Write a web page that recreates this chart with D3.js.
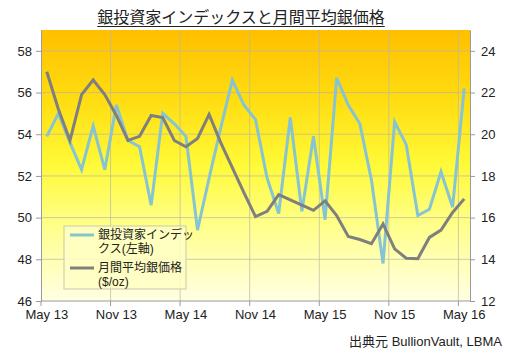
<!DOCTYPE html>
<html>
<head>
<meta charset="utf-8">
<script src="https://cdn.jsdelivr.net/npm/d3@7"></script>
<style>
	body { margin: 0; background: #fff; }
	svg { display: block; font-family: 'Liberation Sans', Arial, 'Noto Sans CJK JP', sans-serif; }
	.axis text { font-size: 13px; fill: #222; }
	.axis path, .axis line { stroke: #9a9a9a; }
	.grid line { stroke: #b8b8a8; stroke-opacity: 0.7; }
	.jp { font-family: 'Noto Sans CJK JP', sans-serif; }
</style>
</head>
<body>
<svg id="chart" width="522" height="360"></svg>
<script>
'use strict';

// May 13 .. May 16, one point per month
var months = ['May 13','Jun 13','Jul 13','Aug 13','Sep 13','Oct 13','Nov 13','Dec 13',
	'Jan 14','Feb 14','Mar 14','Apr 14','May 14','Jun 14','Jul 14','Aug 14','Sep 14','Oct 14',
	'Nov 14','Dec 14','Jan 15','Feb 15','Mar 15','Apr 15','May 15','Jun 15','Jul 15','Aug 15',
	'Sep 15','Oct 15','Nov 15','Dec 15','Jan 16','Feb 16','Mar 16','Apr 16','May 16'];

// silver investor index (left axis)
var investorIndex = [53.9, 55.0, 53.6, 52.3, 54.4, 52.3, 55.4, 53.7, 53.4, 50.6,
	55.0, 54.5, 53.9, 49.4, 51.9, 54.3, 56.6, 55.4, 54.7, 51.9,
	50.2, 54.8, 50.3, 53.9, 49.9, 56.7, 55.4, 54.5, 51.8, 47.8,
	54.6, 53.5, 50.1, 50.4, 52.2, 50.5, 56.2];

// monthly average silver price, $/oz (right axis)
var silverPrice = [23.0, 21.2, 19.7, 21.9, 22.6, 21.9, 20.9, 19.7, 19.9, 20.9,
	20.8, 19.7, 19.4, 19.8, 20.95, 19.6, 18.4, 17.2, 16.05, 16.3,
	17.1, 16.85, 16.6, 16.35, 16.8, 16.1, 15.1, 14.95, 14.75, 15.7,
	14.5, 14.05, 14.03, 15.05, 15.4, 16.25, 16.9];

var leftTicks = [46, 48, 50, 52, 54, 56, 58];
var rightTicks = [12, 14, 16, 18, 20, 22, 24];
var xTicks = ['May 13','Nov 13','May 14','Nov 14','May 15','Nov 15','May 16'];

var title = '銀投資家インデックスと月間平均銀価格';
var legendIndex = ['銀投資家インデッ', 'クス(左軸)'];
var legendPrice = ['月間平均銀価格', '($/oz)'];
var sourceText = '出典元 BullionVault, LBMA';

var margin = { left: 41, top: 30, right: 52, bottom: 59 };
var W = 522, H = 360;
var width = W - margin.left - margin.right;
var height = H - margin.top - margin.bottom;

var svg = d3.select('#chart');

var defs = svg.append('defs');
var grad = defs.append('linearGradient')
	.attr('id', 'bg')
	.attr('x1', 0).attr('y1', 0)
	.attr('x2', 0).attr('y2', 1)
	;
[['0%', '#ffbf00'], ['25%', '#ffdc10'], ['50%', '#fffa38'], ['72%', '#ffff8a'], ['100%', '#ffffe4']]
	.forEach(function(s) {
		grad.append('stop').attr('offset', s[0]).attr('stop-color', s[1]);
	});

var chart = svg.append('g')
	.attr('transform', 'translate(' + margin.left + ' ' + margin.top + ')')
	;

var x = d3.scaleBand()
	.domain(months)
	.range([0, width])
	;
var cx = function(m) { return x(m) + x.bandwidth() / 2; };

var yLeft = d3.scaleLinear()
	.domain([46, 59])
	.range([height, 0])
	;
var yRight = d3.scaleLinear()
	.domain([12, 25])
	.range([height, 0])
	;

chart.append('rect')
	.attr('width', width)
	.attr('height', height)
	.attr('fill', 'url(#bg)')
	;

// gridlines
var grid = chart.append('g').attr('class', 'grid');
grid.selectAll('.h')
	.data(leftTicks.slice(1))
	.enter().append('line')
		.attr('x1', 0).attr('x2', width)
		.attr('y1', function(d) { return yLeft(d); })
		.attr('y2', function(d) { return yLeft(d); })
	;
grid.selectAll('.v')
	.data(xTicks.slice(1))
	.enter().append('line')
		.attr('x1', function(d) { return x(d); })
		.attr('x2', function(d) { return x(d); })
		.attr('y1', 0).attr('y2', height)
	;

// axes
chart.append('g')
	.attr('class', 'y axis')
	.call(d3.axisLeft(yLeft).tickValues(leftTicks).tickSize(5).tickSizeOuter(0).tickPadding(4))
	;
chart.append('g')
	.attr('class', 'y axis')
	.attr('transform', 'translate(' + width + ',0)')
	.call(d3.axisRight(yRight).tickValues(rightTicks).tickSize(5).tickSizeOuter(0).tickPadding(6))
	;
var xAxis = chart.append('g')
	.attr('class', 'x axis')
	.attr('transform', 'translate(0,' + height + ')')
	.call(d3.axisBottom(x).tickValues(xTicks).tickSize(0).tickPadding(9))
	;
xAxis.select('.domain').remove();
chart.append('line')
	.attr('x1', 0).attr('x2', width)
	.attr('y1', height).attr('y2', height)
	.attr('stroke', '#9a9a9a')
	;
chart.append('g')
	.selectAll('line')
	.data(xTicks)
	.enter().append('line')
		.attr('x1', function(d) { return x(d); })
		.attr('x2', function(d) { return x(d); })
		.attr('y1', height).attr('y2', height + 5)
		.attr('stroke', '#9a9a9a')
	;

// series
var indexLine = d3.line()
	.x(function(d, i) { return cx(months[i]); })
	.y(function(d) { return yLeft(d); })
	;
var priceLine = d3.line()
	.x(function(d, i) { return cx(months[i]); })
	.y(function(d) { return yRight(d); })
	;
chart.append('path')
	.datum(investorIndex)
	.attr('d', indexLine)
	.attr('fill', 'none')
	.attr('stroke', '#86c4d4')
	.attr('stroke-width', 3)
	;
chart.append('path')
	.datum(silverPrice)
	.attr('d', priceLine)
	.attr('fill', 'none')
	.attr('stroke', '#7f7f7f')
	.attr('stroke-width', 3)
	;

// legend
var legend = svg.append('g')
	.attr('transform', 'translate(64 226)')
	;
legend.append('rect')
	.attr('width', 122)
	.attr('height', 63)
	.attr('fill', '#ffffc4')
	.attr('fill-opacity', 0.85)
	.attr('stroke', '#c8c8b0')
	;
function legendItem(y0, color, lines) {
	legend.append('line')
		.attr('x1', 6).attr('x2', 30)
		.attr('y1', y0).attr('y2', y0)
		.attr('stroke', color)
		.attr('stroke-width', 3)
		;
	lines.forEach(function(l, i) {
		legend.append('text')
			.attr('x', 34)
			.attr('y', y0 + 4 + i * 14)
			.attr('font-size', 12)
			.attr('fill', '#222')
			.text(l)
			;
	});
}
legendItem(9, '#86c4d4', legendIndex);
legendItem(42, '#7f7f7f', legendPrice);

// title
var t = svg.append('text')
	.attr('class', 'jp')
	.attr('x', 241)
	.attr('y', 23)
	.attr('text-anchor', 'middle')
	.attr('font-size', 16)
	.attr('fill', '#222')
	.text(title)
	;
var tb = t.node().getBBox();
svg.append('line')
	.attr('x1', tb.x).attr('x2', tb.x + tb.width)
	.attr('y1', 26.5).attr('y2', 26.5)
	.attr('stroke', '#222')
	;

svg.append('text')
	.attr('x', 502)
	.attr('y', 346)
	.attr('text-anchor', 'end')
	.attr('font-size', 13)
	.attr('fill', '#222')
	.text(sourceText)
	;
</script>
</body>
</html>
